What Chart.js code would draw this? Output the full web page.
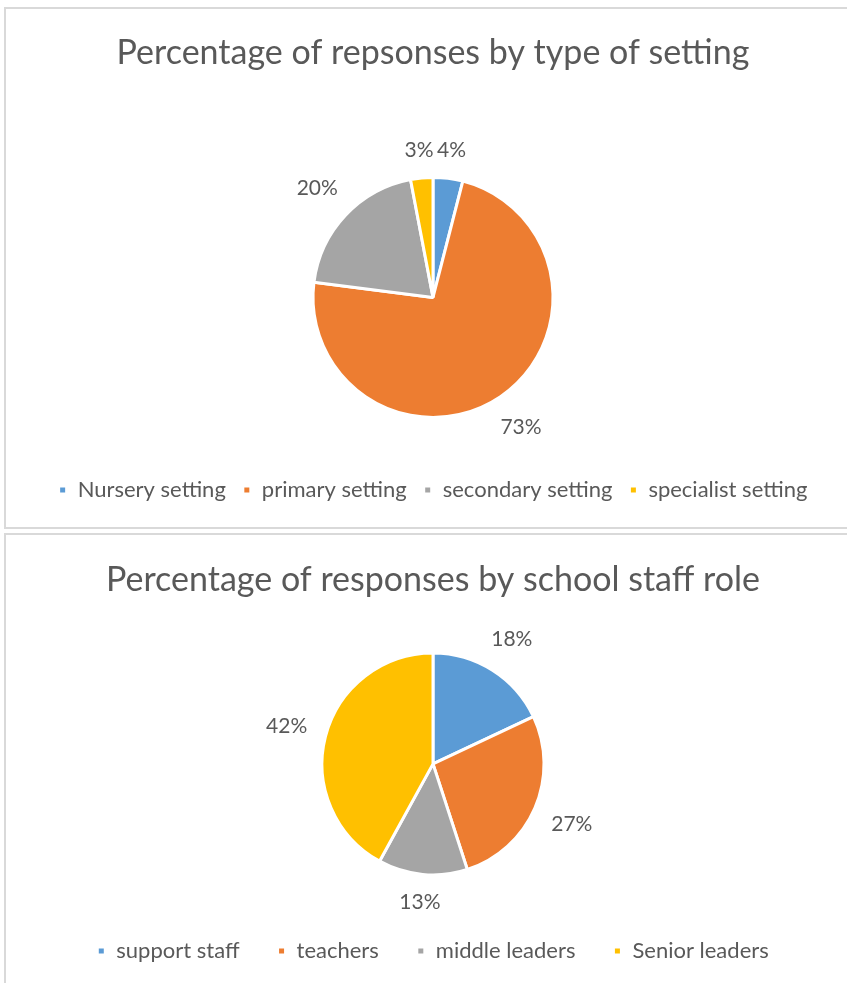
<!DOCTYPE html>
<html>
<head>
<meta charset="utf-8">
<script src="https://cdn.jsdelivr.net/npm/chart.js@4.4.1/dist/chart.umd.min.js"></script>
<style>
  body { margin: 0; background: #fff; overflow: hidden; width: 847px; height: 983px; position: relative; }
  .box { position: absolute; left: 4px; width: 858px; border: 2px solid #d9d9d9; box-sizing: border-box; background: #fff; }
  #box1 { top: 7px; height: 522px; }
  #box2 { top: 533px; height: 470px; }
  canvas { display: block; }
</style>
</head>
<body>
<div class="box" id="box1"><canvas id="settingChart"></canvas></div>
<div class="box" id="box2"><canvas id="roleChart"></canvas></div>
<script>
const settingLabels = ["Nursery setting", "primary setting", "secondary setting", "specialist setting"];
const settingValues = [4, 73, 20, 3];
const roleLabels = ["support staff", "teachers", "middle leaders", "Senior leaders"];
const roleValues = [18, 27, 13, 42];
const colours = ["#5B9BD5", "#ED7D31", "#A5A5A5", "#FFC000"];
const textColour = "#595959";
const fontName = "Lato, 'Noto Sans', sans-serif";

// percent labels outside the slice end
const outsideLabels = {
    id: "outsideLabels",
    afterDatasetsDraw(chart, args, opts) {
        const ctx = chart.ctx;
        const meta = chart.getDatasetMeta(0);
        const values = chart.data.datasets[0].data;
        ctx.save();
        ctx.font = opts.size + "px " + fontName;
        ctx.fillStyle = textColour;
        ctx.textAlign = "center";
        ctx.textBaseline = "middle";
        meta.data.forEach((arc, i) => {
            const p = arc.getProps(["x", "y", "startAngle", "endAngle", "outerRadius"], true);
            const mid = (p.startAngle + p.endAngle) / 2;
            const txt = values[i] + "%";
            const w = ctx.measureText(txt).width;
            const h = opts.size * 0.8;
            const c = Math.cos(mid), s = Math.sin(mid);
            const d = p.outerRadius + opts.gap + Math.abs(c) * w / 2 + Math.abs(s) * h / 2;
            ctx.fillText(txt, p.x + c * d, p.y + s * d);
        });
        ctx.restore();
    }
};

const makePie = (id, labels, values, title, radius, pad, titlePad, legendPad) => {
    new Chart(document.getElementById(id), {
        type: "pie",
        data: {
            labels: labels,
            datasets: [{
                data: values,
                backgroundColor: colours,
                borderColor: "#ffffff",
                borderWidth: 3
            }]
        },
        options: {
            responsive: true,
            maintainAspectRatio: false,
            animation: false,
            radius: radius,
            layout: { padding: pad },
            plugins: {
                title: {
                    display: true,
                    text: title,
                    color: textColour,
                    font: { family: fontName, size: 34, weight: "normal" },
                    padding: titlePad
                },
                legend: {
                    position: "bottom",
                    labels: {
                        color: textColour,
                        boxWidth: 8,
                        boxHeight: 8,
                        padding: legendPad,
                        font: { family: fontName, size: 22 }
                    }
                },
                tooltip: { enabled: false },
                outsideLabels: { size: 21, gap: 18 }
            }
        },
        plugins: [outsideLabels]
    });
};

makePie("settingChart", settingLabels, settingValues, "Percentage of repsonses by type of setting",
    120, { top: 10, bottom: 16 }, { top: 14, bottom: 59 }, 17);
makePie("roleChart", roleLabels, roleValues, "Percentage of responses by school staff role",
    111, { top: 10, bottom: 29 }, { top: 15, bottom: 25 }, 38);
</script>
</body>
</html>
